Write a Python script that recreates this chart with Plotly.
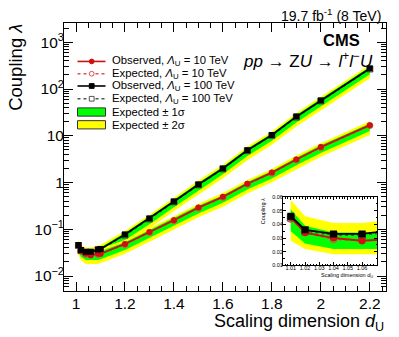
import plotly.graph_objects as go

W, H = 399, 337


def px(x):
    return x / W


def py(y):
    return 1 - y / H


# ---------------- data ----------------
D_U = [1.01, 1.02, 1.04, 1.06, 1.09, 1.10, 1.20, 1.30, 1.40, 1.50, 1.60, 1.70, 1.80, 1.90, 2.00, 2.20]

# Lambda_U = 100 TeV
OBS_100 = [0.046, 0.036, 0.033, 0.033, 0.037, 0.038, 0.077, 0.171, 0.395, 0.91, 2.0, 4.9, 10.4, 25.7, 56.8, 275]
EXP_100 = [0.045, 0.035, 0.032, 0.032, 0.036, 0.037, 0.075, 0.166, 0.385, 0.89, 1.95, 4.8, 10.1, 25.0, 55.5, 268]
G_LO_100 = [0.036, 0.027, 0.024, 0.024, 0.028, 0.029, 0.058, 0.128, 0.295, 0.68, 1.50, 3.7, 7.8, 19.2, 42.6, 206]
G_HI_100 = [0.052, 0.040, 0.036, 0.036, 0.040, 0.041, 0.084, 0.185, 0.43, 0.99, 2.17, 5.35, 11.2, 27.8, 61.8, 298]
Y_LO_100 = [0.029, 0.023, 0.020, 0.020, 0.023, 0.024, 0.048, 0.105, 0.245, 0.56, 1.23, 3.0, 6.4, 15.8, 35.0, 170]
Y_HI_100 = [0.058, 0.046, 0.041, 0.041, 0.045, 0.046, 0.093, 0.205, 0.475, 1.10, 2.40, 5.9, 12.4, 30.7, 68.2, 330]

# Lambda_U = 10 TeV
OBS_10 = [0.045, 0.034, 0.030, 0.028, 0.030, 0.030, 0.0486, 0.087, 0.157, 0.291, 0.495, 0.944, 1.63, 3.12, 5.74, 16.9]
EXP_10 = [0.044, 0.034, 0.029, 0.028, 0.029, 0.030, 0.047, 0.085, 0.153, 0.284, 0.482, 0.92, 1.59, 3.05, 5.6, 16.5]
G_LO_10 = [0.035, 0.026, 0.022, 0.022, 0.022, 0.023, 0.036, 0.065, 0.118, 0.218, 0.370, 0.707, 1.22, 2.34, 4.3, 12.7]
G_HI_10 = [0.051, 0.039, 0.034, 0.034, 0.034, 0.034, 0.053, 0.095, 0.171, 0.317, 0.538, 1.027, 1.77, 3.40, 6.25, 18.4]
Y_LO_10 = [0.028, 0.022, 0.018, 0.018, 0.018, 0.019, 0.030, 0.054, 0.097, 0.180, 0.305, 0.583, 1.01, 1.93, 3.55, 10.4]
Y_HI_10 = [0.057, 0.045, 0.040, 0.040, 0.039, 0.039, 0.059, 0.105, 0.189, 0.351, 0.595, 1.136, 1.96, 3.77, 6.9, 20.4]

X_TICKS = [1.0, 1.2, 1.4, 1.6, 1.8, 2.0, 2.2]
X_TICKTEXT = ["1", "1.2", "1.4", "1.6", "1.8", "2", "2.2"]
Y_TICKS = [0.01, 0.1, 1, 10, 100, 1000]
Y_TICKTEXT = ["10<sup>−2</sup>", "10<sup>−1</sup>", "1", "10", "10<sup>2</sup>", "10<sup>3</sup>"]

IN_X_TICKS = [1.01, 1.02, 1.03, 1.04, 1.05, 1.06]
IN_X_TICKTEXT = ["1.01", "1.02", "1.03", "1.04", "1.05", "1.06"]
IN_Y_TICKS = [0.01, 0.02, 0.03, 0.04, 0.05, 0.06]
IN_Y_TICKTEXT = ["0.01", "0.02", "0.03", "0.04", "0.05", "0.06"]

LEGEND_LABELS = [
    "Observed, <i>Λ</i><sub>U</sub> = 10 TeV",
    "Expected, <i>Λ</i><sub>U</sub> = 10 TeV",
    "Observed, <i>Λ</i><sub>U</sub> = 100 TeV",
    "Expected, <i>Λ</i><sub>U</sub> = 100 TeV",
    "Expected ± 1σ",
    "Expected ± 2σ",
]

# ---------------- styles ----------------
FONT = "Liberation Sans, Arial, Helvetica, sans-serif"
YELLOW = "#ffff00"
GREEN = "#00ff00"
RED = "#cc1111"
RED_EXP = "#e05050"
BLACK = "#000000"
GRAY_EXP = "#555555"

fig = go.Figure()


def add_all(xa, ya, msize):
    for lo, hi, col in [(Y_LO_100, Y_HI_100, YELLOW), (G_LO_100, G_HI_100, GREEN),
                        (Y_LO_10, Y_HI_10, YELLOW), (G_LO_10, G_HI_10, GREEN)]:
        fig.add_trace(go.Scatter(x=D_U + D_U[::-1], y=hi + lo[::-1], fill="toself",
                                 fillcolor=col, mode="lines", line=dict(width=0),
                                 hoverinfo="skip", showlegend=False, xaxis=xa, yaxis=ya))
    fig.add_trace(go.Scatter(x=D_U, y=EXP_10, mode="lines+markers",
                             line=dict(color=RED_EXP, width=1.5, dash="dot"),
                             marker=dict(symbol="circle-open", size=msize, color=RED_EXP),
                             showlegend=False, xaxis=xa, yaxis=ya))
    fig.add_trace(go.Scatter(x=D_U, y=EXP_100, mode="lines+markers",
                             line=dict(color=GRAY_EXP, width=1.5, dash="dot"),
                             marker=dict(symbol="square-open", size=msize, color=GRAY_EXP),
                             showlegend=False, xaxis=xa, yaxis=ya))
    fig.add_trace(go.Scatter(x=D_U, y=OBS_10, mode="lines+markers",
                             line=dict(color=RED, width=1.8),
                             marker=dict(symbol="circle", size=msize, color=RED),
                             showlegend=False, xaxis=xa, yaxis=ya))
    fig.add_trace(go.Scatter(x=D_U, y=OBS_100, mode="lines+markers",
                             line=dict(color=BLACK, width=1.8),
                             marker=dict(symbol="square", size=msize, color=BLACK),
                             showlegend=False, xaxis=xa, yaxis=ya))


add_all("x", "y", 6)
add_all("x2", "y2", 7)

y_minor = [k * 10 ** n for n in range(-3, 4) for k in range(2, 10)]
x_minor = [round(1.0 + 0.05 * i, 2) for i in range(-1, 27)]
in_x_minor = [round(1.0 + 0.002 * i, 3) for i in range(0, 40)]
in_y_minor = [round(0.005 * i, 3) for i in range(1, 14)]

axis_common = dict(showline=True, linecolor="black", linewidth=1, mirror="allticks",
                   ticks="inside", tickcolor="black", showgrid=False, zeroline=False)

fig.update_layout(
    width=W, height=H,
    margin=dict(l=0, r=0, t=0, b=0),
    paper_bgcolor="white", plot_bgcolor="white",
    font=dict(family=FONT, color="black"),
    xaxis=dict(domain=[px(64), px(385.5)], range=[0.951, 2.264],
               tickmode="array", tickvals=X_TICKS, ticktext=X_TICKTEXT,
               ticklen=9, tickfont=dict(size=15.5), ticklabelstandoff=-1, tickangle=0,
               minor=dict(tickmode="array", tickvals=x_minor, ticklen=5, ticks="inside", tickcolor="black"),
               **axis_common),
    yaxis=dict(domain=[py(293), py(20)], type="log", range=[-2.315, 3.42],
               tickmode="array", tickvals=Y_TICKS, ticktext=Y_TICKTEXT,
               ticklen=9, tickfont=dict(size=15.5), ticklabelstandoff=-4,
               minor=dict(tickmode="array", tickvals=y_minor, ticklen=5, ticks="inside", tickcolor="black"),
               **axis_common),
    xaxis2=dict(domain=[px(283), px(377)], range=[1.0045, 1.0705], anchor="y2",
                tickmode="array", tickvals=IN_X_TICKS, ticktext=IN_X_TICKTEXT,
                ticklen=3, tickfont=dict(size=5.5), ticklabelstandoff=-3, tickangle=0,
                minor=dict(tickmode="array", tickvals=in_x_minor, ticklen=1.5, ticks="inside", tickcolor="black"),
                **axis_common),
    yaxis2=dict(domain=[py(267), py(197.7)], range=[0.01, 0.06], anchor="x2",
                tickmode="array", tickvals=IN_Y_TICKS, ticktext=IN_Y_TICKTEXT,
                ticklen=3, tickfont=dict(size=5.5), ticklabelstandoff=-2,
                minor=dict(tickmode="array", tickvals=in_y_minor, ticklen=1.5, ticks="inside", tickcolor="black"),
                **axis_common),
)

annotations = [
    dict(text="Coupling <i>λ</i>", x=px(16), y=py(66), textangle=-90, xanchor="center",
         font=dict(size=18.5)),
    dict(text="Scaling dimension <i>d</i><sub>U</sub>", x=px(386), y=py(325), xanchor="right",
         font=dict(size=18)),
    dict(text="19.7 fb<sup>-1</sup> (8 TeV)", x=px(383), y=py(12), xanchor="right", font=dict(size=14)),
    dict(text="<b>CMS</b>", x=px(362), y=py(38), xanchor="right", font=dict(size=16.5)),
    dict(text="<i>pp</i> → Z<i>U</i> → <i>l</i><sup>+</sup><i>l</i><sup>−</sup><i>U</i>", x=px(375), y=py(58),
         xanchor="right", font=dict(size=17)),
    dict(text="Coupling <i>λ</i>", x=px(263), y=py(212), textangle=-90, xanchor="center",
         font=dict(size=5.5)),
    dict(text="Scaling dimension <i>d</i><sub>U</sub>", x=px(375), y=py(277), xanchor="right",
         font=dict(size=5.5)),
]

LEG_ROWS = [59.5, 72, 84.5, 97.5, 111, 124]
LX0, LX1, LXM, LTX = 77.5, 105.5, 91.7, 110
shapes = []
leg_styles = [
    ("line", RED, "solid", "circle", True),
    ("line", RED_EXP, "dot", "circle", False),
    ("line", BLACK, "solid", "square", True),
    ("line", GRAY_EXP, "dot", "square", False),
    ("box", GREEN, None, None, None),
    ("box", YELLOW, None, None, None),
]
for yrow, label, (kind, col, dash, msym, filled) in zip(LEG_ROWS, LEGEND_LABELS, leg_styles):
    if kind == "line":
        shapes.append(dict(type="line", xref="paper", yref="paper", x0=px(LX0), x1=px(LX1),
                           y0=py(yrow), y1=py(yrow), line=dict(color=col, width=1.6, dash=dash)))
        r = 2.4
        shapes.append(dict(type="circle" if msym == "circle" else "rect", xref="paper", yref="paper",
                           x0=px(LXM - r), x1=px(LXM + r), y0=py(yrow + r), y1=py(yrow - r),
                           fillcolor=col if filled else "white", line=dict(color=col, width=1)))
    else:
        shapes.append(dict(type="rect", xref="paper", yref="paper", x0=px(LX0), x1=px(LX1),
                           y0=py(yrow + 4.2), y1=py(yrow - 4.2), fillcolor=col,
                           line=dict(color="#333333", width=1)))
    annotations.append(dict(text=label, x=px(LTX), y=py(yrow), xanchor="left", font=dict(size=11.3)))

for a in annotations:
    a.setdefault("xref", "paper")
    a.setdefault("yref", "paper")
    a.setdefault("showarrow", False)
    a.setdefault("yanchor", "middle")

fig.update_layout(annotations=annotations, shapes=shapes)
fig.write_html("out.html", config={"displayModeBar": False},
               post_script="document.body.style.margin='0px';document.body.style.padding='0px';")
